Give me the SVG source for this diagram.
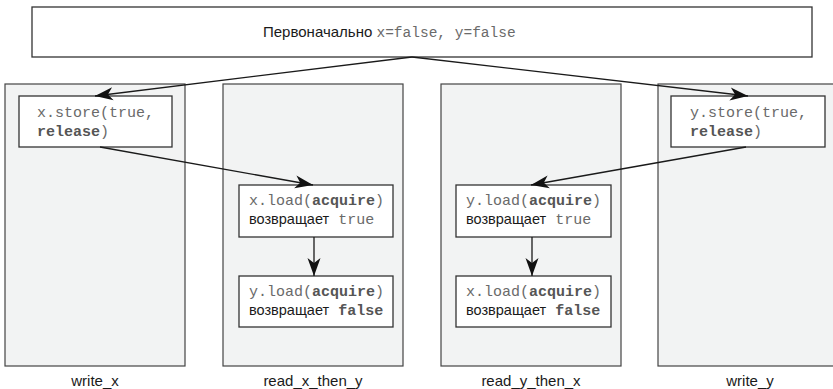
<svg xmlns="http://www.w3.org/2000/svg" width="833" height="389" viewBox="0 0 833 389">
<style>
.col{fill:#f2f3f3;stroke:#444;stroke-width:1.2}
.box{fill:#fff;stroke:#333;stroke-width:1.3}
.mono{font-family:"Liberation Mono","Courier New",monospace;font-size:15px;fill:#6a6a6a}
.b{font-weight:bold;fill:#555}
.sans{font-family:"Liberation Sans",Arial,sans-serif;font-size:14.5px;fill:#1a1a1a}
.lbl{font-family:"Liberation Sans",Arial,sans-serif;font-size:15px;fill:#1a1a1a;text-anchor:middle}
.conn{stroke:#1a1a1a;stroke-width:1.3;fill:none;marker-end:url(#ah)}
</style>
<defs>
<marker id="ah" markerUnits="userSpaceOnUse" markerWidth="20" markerHeight="14" refX="18" refY="7" orient="auto">
<path d="M0,0.5 L18,7 L0,13.5 L5,7 z" fill="#111"/>
</marker>
</defs>
<g id="init">
<rect class="box" x="32" y="7" width="780" height="50"/>
<text x="263" y="37"><tspan class="sans" style="font-size:15px">Первоначально </tspan><tspan class="mono" style="font-size:14.5px">x=false, y=false</tspan></text>
</g>
<g id="write_x">
<rect class="col" x="5" y="84" width="180" height="282"/>
<text class="lbl" x="95" y="386">write_x</text>
</g>
<g id="read_x_then_y">
<rect class="col" x="223" y="84" width="180" height="282"/>
<text class="lbl" x="313" y="386">read_x_then_y</text>
</g>
<g id="read_y_then_x">
<rect class="col" x="441" y="84" width="180" height="282"/>
<text class="lbl" x="531" y="386">read_y_then_x</text>
</g>
<g id="write_y">
<rect class="col" x="658" y="84" width="190" height="282"/>
<text class="lbl" x="750" y="386">write_y</text>
</g>
<g id="x_store">
<rect class="box" x="19" y="96" width="153" height="51"/>
<text class="mono" x="37" y="117">x.store(true,</text>
<text class="mono" x="37" y="136"><tspan class="b">release</tspan>)</text>
</g>
<g id="y_store">
<rect class="box" x="671" y="96" width="154" height="51"/>
<text class="mono" x="690" y="117">y.store(true,</text>
<text class="mono" x="690" y="136"><tspan class="b">release</tspan>)</text>
</g>
<g id="x_load_1">
<rect class="box" x="239" y="185" width="154" height="52"/>
<text class="mono" x="249" y="205">x.load(<tspan class="b">acquire</tspan>)</text>
<text x="249" y="224"><tspan class="sans">возвращает</tspan><tspan class="mono"> true</tspan></text>
</g>
<g id="y_load_1">
<rect class="box" x="239" y="276" width="154" height="51"/>
<text class="mono" x="249" y="296">y.load(<tspan class="b">acquire</tspan>)</text>
<text x="249" y="315"><tspan class="sans">возвращает</tspan><tspan class="mono"> <tspan class="b">false</tspan></tspan></text>
</g>
<g id="y_load_2">
<rect class="box" x="456" y="185" width="155" height="52"/>
<text class="mono" x="466" y="205">y.load(<tspan class="b">acquire</tspan>)</text>
<text x="466" y="224"><tspan class="sans">возвращает</tspan><tspan class="mono"> true</tspan></text>
</g>
<g id="x_load_2">
<rect class="box" x="456" y="276" width="155" height="51"/>
<text class="mono" x="466" y="296">x.load(<tspan class="b">acquire</tspan>)</text>
<text x="466" y="315"><tspan class="sans">возвращает</tspan><tspan class="mono"> <tspan class="b">false</tspan></tspan></text>
</g>
<g id="connectors">
<line class="conn" x1="412" y1="57" x2="95" y2="96"/>
<line class="conn" x1="412" y1="57" x2="748" y2="96"/>
<line class="conn" x1="100" y1="147" x2="313" y2="185"/>
<line class="conn" x1="746" y1="147" x2="531" y2="185"/>
<line class="conn" x1="314" y1="237" x2="314" y2="276"/>
<line class="conn" x1="532" y1="237" x2="532" y2="276"/>
</g>
</svg>
